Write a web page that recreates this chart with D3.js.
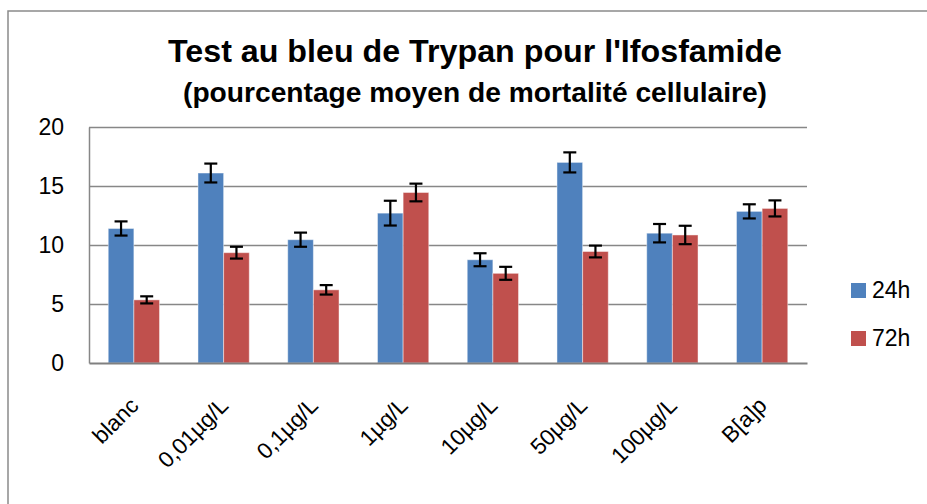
<!DOCTYPE html>
<html>
<head>
<meta charset="utf-8">
<script src="https://cdn.jsdelivr.net/npm/d3@7"></script>
<style>
	html, body { margin: 0; padding: 0; background: #fff; }
	svg { display: block; font-family: "Liberation Sans", Arial, sans-serif; }
</style>
</head>
<body>
<div id="chart"></div>
<script>
const categories = ["blanc", "0,01µg/L", "0,1µg/L", "1µg/L", "10µg/L", "50µg/L", "100µg/L", "B[a]p"];
const seriesNames = ["24h", "72h"];
const values24 = [11.4, 16.1, 10.45, 12.7, 8.75, 17.0, 11.0, 12.85];
const values72 = [5.35, 9.35, 6.2, 14.45, 7.6, 9.45, 10.85, 13.1];
const errors24 = [0.6, 0.8, 0.6, 1.05, 0.55, 0.85, 0.78, 0.6];
const errors72 = [0.3, 0.5, 0.4, 0.75, 0.55, 0.5, 0.78, 0.68];
const yTicks = [0, 5, 10, 15, 20];

const Colors = {
	'24h': '#4F81BD',
	'72h': '#C0504D'
};

const width  = 927;
const height = 504;
const plot   = { left: 89, right: 807, top: 127, bottom: 363 };

const rows = categories.map((c, i) => ({
	category: c,
	bars: [
		{ name: "24h", value: values24[i], err: errors24[i] },
		{ name: "72h", value: values72[i], err: errors72[i] },
	]
}));

const svg = d3.select("#chart").append("svg")
	.attr("width", width)
	.attr("height", height)
	.attr("viewBox", `0 0 ${width} ${height}`);

// outer chart frame (runs off the right and bottom edges)
svg.append("rect")
	.attr("x", 8)
	.attr("y", 11)
	.attr("width", width + 20)
	.attr("height", height + 20)
	.attr("fill", "none")
	.attr("stroke", "#8a8a8a")
	.attr("stroke-width", 1.5);

// titles
svg.append("text")
	.attr("x", 475)
	.attr("y", 62)
	.attr("text-anchor", "middle")
	.attr("font-size", 31.5)
	.attr("font-weight", "700")
	.attr("textLength", 614)
	.attr("lengthAdjust", "spacingAndGlyphs")
	.text("Test au bleu de Trypan pour l'Ifosfamide");

svg.append("text")
	.attr("x", 475)
	.attr("y", 102)
	.attr("text-anchor", "middle")
	.attr("font-size", 28)
	.attr("font-weight", "700")
	.attr("textLength", 584)
	.attr("lengthAdjust", "spacingAndGlyphs")
	.text("(pourcentage moyen de mortalité cellulaire)");

// scales
const x0 = d3.scaleBand()
	.domain(categories)
	.range([plot.left, plot.right])
	.padding(0);

const x1 = d3.scaleBand()
	.domain(seriesNames)
	.range([0, x0.bandwidth()])
	.paddingInner(0)
	.paddingOuter(0.75);

const y = d3.scaleLinear()
	.domain([0, 20])
	.range([plot.bottom, plot.top]);

// grid
const grid = svg.append("g").attr("class", "grid")
	.attr("transform", `translate(${plot.left},0)`)
	.call(d3.axisLeft(y).tickValues(yTicks.slice(1)).tickSize(-(plot.right - plot.left)).tickFormat(""));
grid.select(".domain").remove();
grid.selectAll("line")
	.attr("stroke", "#878787")
	.attr("stroke-width", 1.5);

// y axis labels
const yAxis = svg.append("g").attr("class", "y axis")
	.attr("transform", `translate(${plot.left},0)`)
	.call(d3.axisLeft(y).tickValues(yTicks).tickSize(0).tickPadding(25));
yAxis.select(".domain")
	.attr("stroke", "#878787")
	.attr("stroke-width", 1.5);
yAxis.selectAll("text")
	.attr("font-size", 23)
	.attr("font-family", "Liberation Sans, Arial, sans-serif")
	.attr("fill", "#000");

// bars
const groups = svg.append("g").attr("class", "bars")
	.selectAll("g")
	.data(rows)
	.join("g")
	.attr("transform", d => `translate(${x0(d.category)},0)`);

groups.selectAll("rect")
	.data(d => d.bars)
	.join("rect")
	.attr("x", d => x1(d.name))
	.attr("y", d => y(d.value))
	.attr("width", x1.bandwidth())
	.attr("height", d => y(0) - y(d.value))
	.attr("fill", d => Colors[d.name])
	.attr("stroke", "#ffffff")
	.attr("stroke-opacity", 0.45)
	.attr("stroke-width", 1);

// error bars
const errG = groups.selectAll("g.err")
	.data(d => d.bars)
	.join("g")
	.attr("class", "err")
	.attr("stroke", "#000")
	.attr("stroke-width", 2.2);

const cx = d => x1(d.name) + x1.bandwidth() / 2;
errG.append("line")
	.attr("x1", cx).attr("x2", cx)
	.attr("y1", d => y(d.value + d.err))
	.attr("y2", d => y(d.value - d.err));
errG.append("line")
	.attr("x1", d => cx(d) - 6.5).attr("x2", d => cx(d) + 6.5)
	.attr("y1", d => y(d.value + d.err))
	.attr("y2", d => y(d.value + d.err));
errG.append("line")
	.attr("x1", d => cx(d) - 6.5).attr("x2", d => cx(d) + 6.5)
	.attr("y1", d => y(d.value - d.err))
	.attr("y2", d => y(d.value - d.err));

// x axis
const xAxis = svg.append("g").attr("class", "x axis")
	.attr("transform", `translate(0,${plot.bottom})`)
	.call(d3.axisBottom(x0).tickSize(0).tickPadding(0));
xAxis.select(".domain")
	.attr("stroke", "#808080")
	.attr("stroke-width", 2);
xAxis.selectAll("text")
	.attr("font-size", 22.5)
	.attr("font-family", "Liberation Sans, Arial, sans-serif")
	.attr("fill", "#000")
	.attr("text-anchor", "end")
	.attr("dy", null)
	.attr("y", null)
	.attr("transform", "translate(6,44) rotate(-45)");

// legend
const legend = svg.append("g").attr("class", "legend")
	.selectAll("g")
	.data(seriesNames)
	.join("g")
	.attr("transform", (d, i) => `translate(851,${283 + i * 48})`);

legend.append("rect")
	.attr("width", 15)
	.attr("height", 15)
	.attr("fill", d => Colors[d]);

legend.append("text")
	.attr("x", 21)
	.attr("y", 15)
	.attr("font-size", 23)
	.text(d => d);
</script>
</body>
</html>
